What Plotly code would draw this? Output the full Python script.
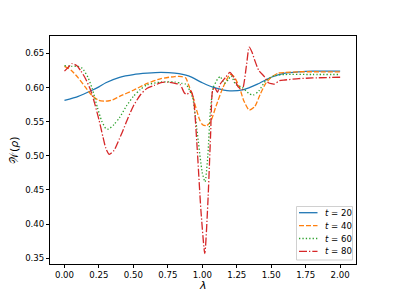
import plotly.graph_objects as go

# t = 20 (solid)
lam_20 = [0.0, 0.1, 0.2, 0.25, 0.3, 0.4, 0.5, 0.6, 0.7, 0.8, 0.9, 1.0, 1.1, 1.2, 1.3, 1.4, 1.5, 1.6, 1.7, 1.8, 1.9, 2.0]
w_20 = [0.581, 0.587, 0.596, 0.601, 0.607, 0.615, 0.619, 0.621, 0.622, 0.621, 0.617, 0.607, 0.599, 0.595, 0.597, 0.605, 0.615, 0.621, 0.623, 0.624, 0.624, 0.624]

# t = 40 (dashed)
lam_40 = [0.0, 0.05, 0.1, 0.15, 0.2, 0.25, 0.3, 0.35, 0.4, 0.5, 0.6, 0.7, 0.8, 0.85, 0.88, 0.9, 0.93, 0.95, 0.98, 1.0, 1.03, 1.06, 1.1, 1.15, 1.2, 1.23, 1.27, 1.3, 1.34, 1.38, 1.42, 1.46, 1.5, 1.55, 1.6, 1.7, 1.85, 2.0]
w_40 = [0.631, 0.625, 0.614, 0.601, 0.588, 0.581, 0.580, 0.582, 0.587, 0.596, 0.606, 0.613, 0.616, 0.616, 0.614, 0.604, 0.588, 0.573, 0.553, 0.546, 0.544, 0.550, 0.573, 0.600, 0.619, 0.616, 0.600, 0.581, 0.567, 0.572, 0.590, 0.606, 0.615, 0.621, 0.622, 0.623, 0.623, 0.623]

# t = 60 (dotted)
lam_60 = [0.0, 0.05, 0.1, 0.13, 0.17, 0.2, 0.24, 0.27, 0.3, 0.32, 0.36, 0.4, 0.45, 0.5, 0.55, 0.6, 0.7, 0.8, 0.85, 0.88, 0.9, 0.93, 0.96, 1.0, 1.02, 1.04, 1.06, 1.08, 1.11, 1.13, 1.16, 1.19, 1.21, 1.24, 1.29, 1.34, 1.37, 1.41, 1.46, 1.52, 1.6, 1.8, 2.0]
w_60 = [0.632, 0.631, 0.631, 0.628, 0.615, 0.599, 0.570, 0.551, 0.540, 0.539, 0.546, 0.556, 0.573, 0.587, 0.597, 0.604, 0.608, 0.608, 0.606, 0.605, 0.599, 0.585, 0.540, 0.475, 0.462, 0.500, 0.570, 0.600, 0.612, 0.616, 0.606, 0.612, 0.617, 0.605, 0.600, 0.591, 0.589, 0.595, 0.610, 0.617, 0.619, 0.619, 0.619]

# t = 80 (dash-dot)
lam_80 = [0.0, 0.03, 0.055, 0.09, 0.12, 0.15, 0.19, 0.22, 0.25, 0.28, 0.3, 0.325, 0.36, 0.39, 0.42, 0.46, 0.5, 0.55, 0.6, 0.65, 0.7, 0.75, 0.8, 0.84, 0.87, 0.89, 0.915, 0.935, 0.96, 0.99, 1.018, 1.04, 1.06, 1.075, 1.09, 1.11, 1.13, 1.17, 1.2, 1.23, 1.26, 1.29, 1.32, 1.34, 1.36, 1.38, 1.41, 1.45, 1.48, 1.52, 1.56, 1.6, 1.7, 1.8, 2.0]
w_80 = [0.624, 0.630, 0.635, 0.632, 0.624, 0.614, 0.596, 0.576, 0.553, 0.527, 0.511, 0.502, 0.508, 0.521, 0.535, 0.555, 0.573, 0.589, 0.599, 0.603, 0.607, 0.608, 0.606, 0.604, 0.592, 0.590, 0.595, 0.585, 0.520, 0.420, 0.357, 0.430, 0.530, 0.596, 0.600, 0.593, 0.605, 0.615, 0.622, 0.614, 0.601, 0.597, 0.632, 0.659, 0.652, 0.640, 0.625, 0.616, 0.607, 0.605, 0.610, 0.611, 0.613, 0.614, 0.615]

x_ticks = [0.0, 0.25, 0.5, 0.75, 1.0, 1.25, 1.5, 1.75, 2.0]
y_ticks = [0.35, 0.40, 0.45, 0.50, 0.55, 0.60, 0.65]
legend_labels = ["<i>t</i> = 20", "<i>t</i> = 40", "<i>t</i> = 60", "<i>t</i> = 80"]

colors = ["#1f77b4", "#ff7f0e", "#2ca02c", "#d62728"]
dashes = ["solid", "5px,2px", "1.3px,2.1px", "8px,2px,1.3px,2px"]
data = [(lam_20, w_20), (lam_40, w_40), (lam_60, w_60), (lam_80, w_80)]

W, H = 396, 297
L, R, T, B = 50, 40, 36, 33
pw, ph = W - L - R, H - T - B

def px(x):
    return (x - L) / pw

def py(y):
    return (H - B - y) / ph

fig = go.Figure()
for (xs, ys), name, color, dash in zip(data, legend_labels, colors, dashes):
    fig.add_trace(go.Scatter(
        x=xs, y=ys, mode="lines", name=name, showlegend=False,
        line=dict(color=color, width=1.3, dash=dash, shape="spline", smoothing=0.6),
    ))

# custom compact legend (matplotlib-like)
shapes = [dict(type="rect", xref="paper", yref="paper",
               x0=px(296.5), x1=px(352.5), y0=py(260), y1=py(206.5),
               line=dict(color="#d0d0d0", width=1), fillcolor="rgba(255,255,255,0.8)", layer="above")]
annotations = []
row_y = [212.7, 225.6, 238.5, 251.4]
for ry, name, color, dash in zip(row_y, legend_labels, colors, dashes):
    shapes.append(dict(type="line", xref="paper", yref="paper",
                       x0=px(299), x1=px(317.5), y0=py(ry), y1=py(ry),
                       line=dict(color=color, width=1.3, dash=dash), layer="above"))
    annotations.append(dict(xref="paper", yref="paper", x=px(323), y=py(ry),
                            xanchor="left", yanchor="middle", showarrow=False,
                            text=name, font=dict(family="DejaVu Sans", size=8.6, color="black")))

# axis titles
annotations.append(dict(xref="paper", yref="paper", x=px(203), y=py(285), xanchor="center", yanchor="middle",
                        showarrow=False, text="<i>λ</i>", font=dict(family="DejaVu Sans", size=11, color="black")))
annotations.append(dict(xref="paper", yref="paper", x=px(14), y=py(150), xanchor="center", yanchor="middle",
                        textangle=-90, showarrow=False, text="𝒲(<i>ρ</i>)",
                        font=dict(family="DejaVu Sans", size=11, color="black")))

font = dict(family="DejaVu Sans", size=8.6, color="black")
fig.update_layout(
    width=W, height=H,
    margin=dict(l=L, r=R, t=T, b=B, autoexpand=False),
    paper_bgcolor="white", plot_bgcolor="white",
    font=font, showlegend=False,
    shapes=shapes, annotations=annotations,
)
fig.update_xaxes(
    range=[-0.105, 2.115], tickvals=x_ticks, tickformat=".2f", automargin=False,
    showgrid=False, zeroline=False, showline=True, linecolor="black", linewidth=1,
    mirror=True, ticks="outside", ticklen=3, tickcolor="black",
)
fig.update_yaxes(
    range=[0.3416, 0.6754], tickvals=y_ticks, tickformat=".2f", automargin=False,
    showgrid=False, zeroline=False, showline=True, linecolor="black", linewidth=1,
    mirror=True, ticks="outside", ticklen=3, tickcolor="black",
)

fig.write_html("out.html", config={"displayModeBar": False},
               post_script="document.body.style.margin='0px';document.body.style.overflow='hidden';")
